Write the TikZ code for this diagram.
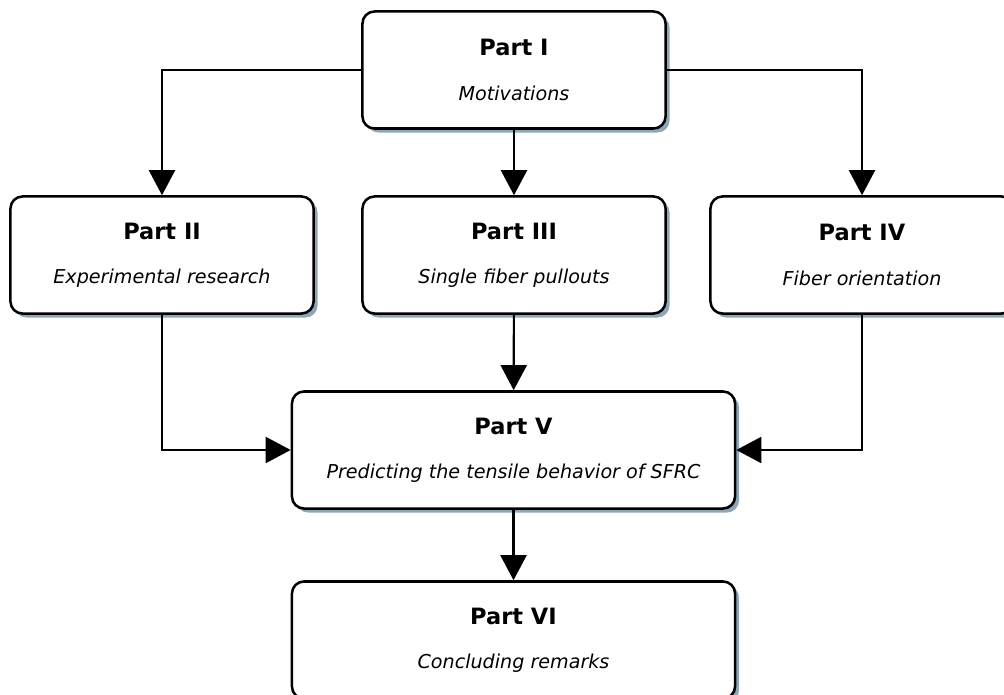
\documentclass[tikz,border=0pt]{standalone}
\usepackage{fontspec}
\setmainfont{DejaVu Sans}
\usepackage{tikz}
\usetikzlibrary{shapes,shadows}
\usetikzlibrary{arrows.meta}
\usetikzlibrary{positioning}
\definecolor{shadowblue}{RGB}{140,168,182}
\newcommand{\parttitle}[2]{{\fontsize{16}{31.5}\selectfont\bfseries #1}\\{\fontsize{13.6}{31.5}\selectfont\itshape #2}}
\tikzset{part/.style={rectangle, rounded corners=0.3cm, draw=black, line width=1.8pt,
fill=white, align=center, minimum width=7.575cm, minimum height=2.925cm, inner sep=0pt,
font=\fontsize{13.6}{31.5}\selectfont,
drop shadow={shadow xshift=0.1cm, shadow yshift=-0.1cm, fill=shadowblue, opacity=1}},
widepart/.style={part, minimum width=11.075cm},
-/.style={color=black, line width=1.5pt},
>={Triangle[length=0.625cm,width=0.65cm]}}
\begin{document}
\begin{tikzpicture}[x=0.025cm,y=-0.025cm]
  \useasboundingbox (0,0) rectangle (1004,695);
  \node (p1) [part] at (514,70) {\parttitle{Part I}{Motivations}};
  \node (p2) [part] at (162,255) {\parttitle{Part II}{Experimental research}};
  \node (p3) [part] at (514,255) {\parttitle{Part III}{Single fiber pullouts}};
  \node (p4) [part] at (862,255) {\parttitle{Part IV}{Fiber orientation}};
  \node (p5) [widepart] at (513.5,450) {\parttitle{Part V}{Predicting the tensile behavior of SFRC}};
  \node (p6) [widepart] at (513.5,640) {\parttitle{Part VI}{Concluding remarks}};

  \draw [-,->] (p1.west) -| (p2.north);
  \draw [-,->] (p1) -- (p3);
  \draw [-,->] (p1.east) -| (p4.north);
  \draw [-,->] (p2.south) |- (p5.west);
  \draw [-,->] (p3) -- (p5);
  \draw [-,->] (p4.south) |- (p5.east);
  \draw [-,->] (p5) -- (p6);
\end{tikzpicture}
\end{document}
